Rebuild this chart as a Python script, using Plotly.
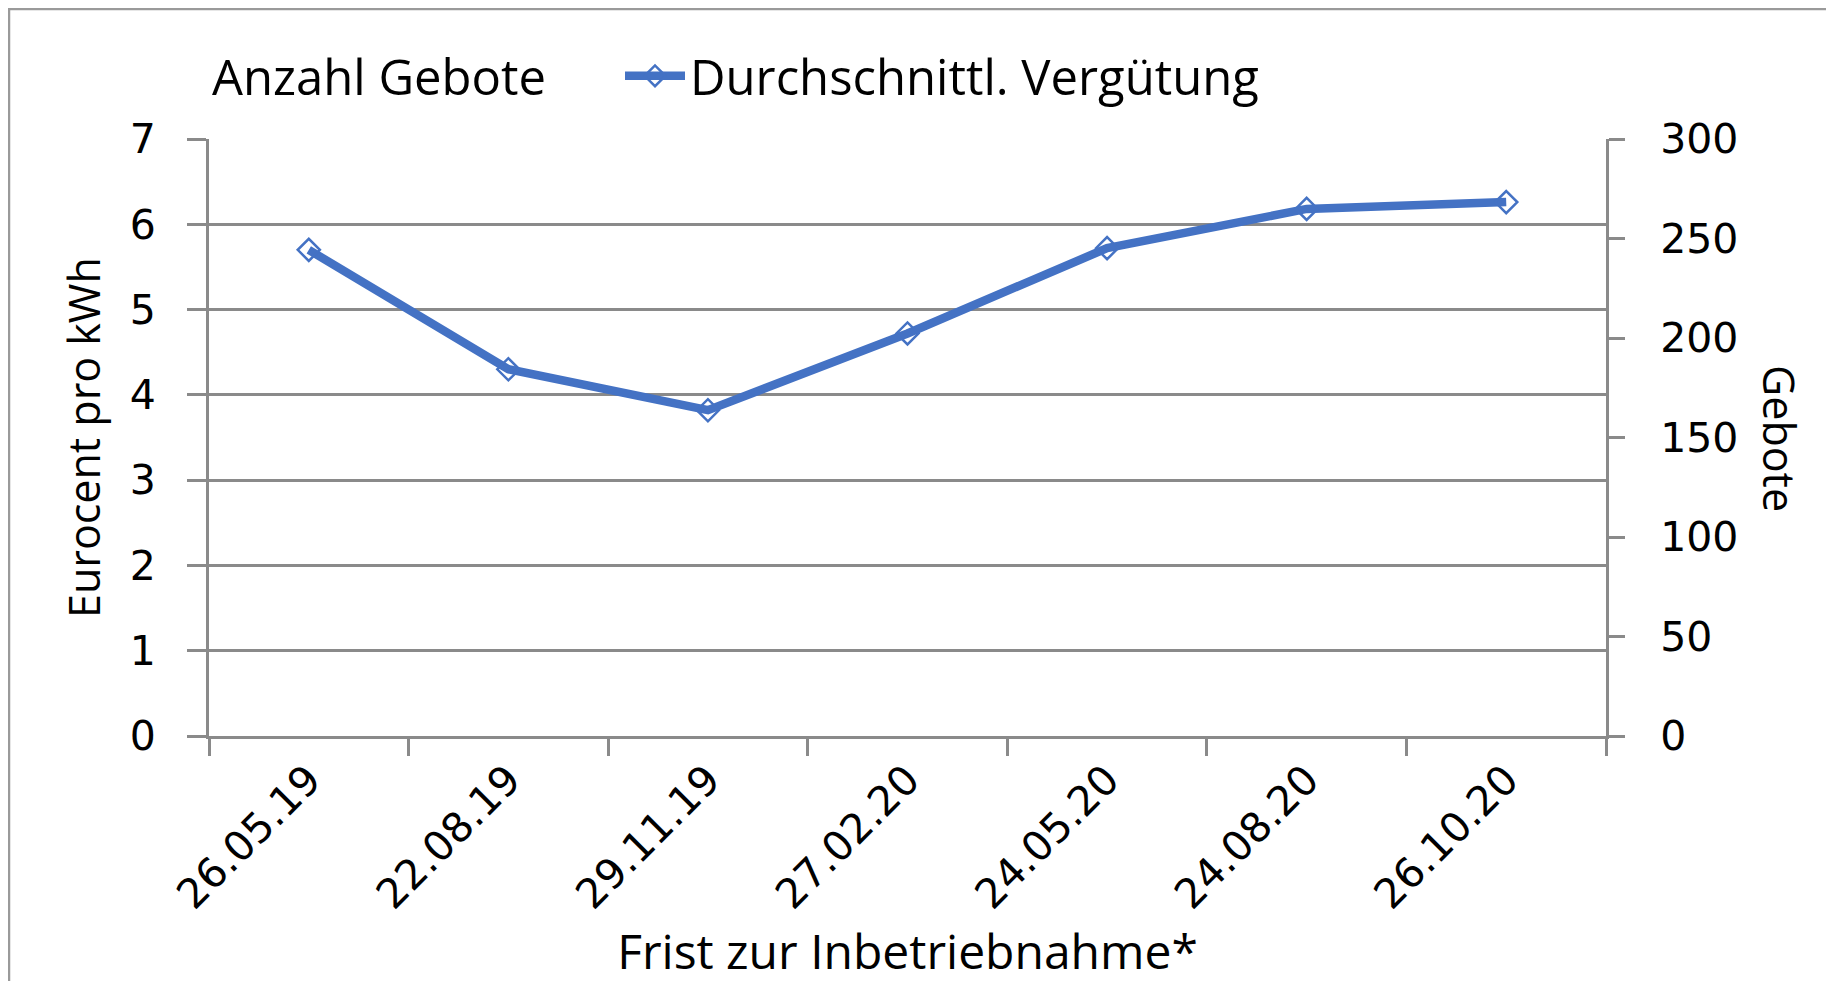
import plotly.graph_objects as go

categories = ["26.05.19", "22.08.19", "29.11.19", "27.02.20", "24.05.20", "24.08.20", "26.10.20"]
verguetung = [5.70, 4.30, 3.82, 4.72, 5.72, 6.18, 6.26]
anzahl_gebote = [None, None, None, None, None, None, None]

W, H = 1834, 981
# plot area in figure coordinates (page has an 8px body margin)
L, R, T, B = 201, 1598, 131, 728
pw, ph = R - L, B - T

legend_font = dict(family="Open Sans", size=49, color="black")
xtitle_font = dict(family="Open Sans", size=48, color="black")
vtitle_font = dict(family="Open Sans", size=43, color="black")
tick_font = dict(family="DejaVu Sans", size=41, color="black")
grey = "#8a8a8a"


def px_x(px):
    return (px - L) / pw


def px_y(py):
    return (B - py) / ph


fig = go.Figure()
fig.add_trace(go.Bar(
    x=categories, y=anzahl_gebote, name="Anzahl Gebote", yaxis="y2",
    marker=dict(color="rgba(0,0,0,0)", line=dict(width=0, color="rgba(0,0,0,0)")),
    showlegend=True, legend="legend",
))
fig.add_trace(go.Scatter(
    x=categories, y=verguetung, name="Durchschnittl. Vergütung", mode="lines+markers",
    line=dict(color="#4472C4", width=8.5),
    marker=dict(symbol="diamond-open", size=17, color="#4472C4", line=dict(width=2.5, color="#4472C4")),
    legend="legend2",
))

fig.update_layout(
    width=W, height=H,
    margin=dict(l=L, r=W - R, t=T, b=H - B),
    paper_bgcolor="white", plot_bgcolor="white",
    showlegend=True,
    legend=dict(
        x=px_x(164), xanchor="left", y=px_y(68), yanchor="middle",
        font=legend_font, bgcolor="rgba(0,0,0,0)",
    ),
    legend2=dict(
        x=px_x(612), xanchor="left", y=px_y(68), yanchor="middle",
        font=legend_font, bgcolor="rgba(0,0,0,0)", itemwidth=60,
    ),
    xaxis=dict(
        type="category", tickson="boundaries", ticks="outside", ticklen=17, tickwidth=3, tickcolor=grey,
        showline=True, linecolor=grey, linewidth=3, showgrid=False,
        tickangle=-45, tickfont=tick_font,
        title=dict(text="Frist zur Inbetriebnahme*", font=xtitle_font, standoff=8),
    ),
    yaxis=dict(
        range=[0, 7], dtick=1, tick0=0, ticks="outside", ticklen=19, tickwidth=3, tickcolor=grey,
        showline=True, linecolor=grey, linewidth=3, showgrid=True, gridcolor=grey, gridwidth=3,
        zeroline=False, tickfont=tick_font, ticklabelstandoff=23,
        title=dict(text="Eurocent pro kWh", font=vtitle_font, standoff=16),
    ),
    yaxis2=dict(
        range=[0, 300], dtick=50, tick0=0, overlaying="y", side="right",
        ticks="outside", ticklen=16, tickwidth=3, tickcolor=grey,
        showline=True, linecolor=grey, linewidth=3, showgrid=False, zeroline=False,
        tickfont=tick_font, ticklabelstandoff=27,
    ),
    annotations=[dict(
        text="Gebote", textangle=90, showarrow=False,
        xref="paper", yref="paper", x=px_x(1772), y=px_y(431),
        xanchor="center", yanchor="middle", font=vtitle_font,
    )],
    shapes=[dict(
        type="rect", xref="paper", yref="paper", layer="below",
        x0=px_x(1), x1=px_x(1821), y0=px_y(1000), y1=px_y(1),
        line=dict(color="#9a9a9a", width=2.5), fillcolor="rgba(0,0,0,0)",
    )],
)

fig.write_html("out.html")
